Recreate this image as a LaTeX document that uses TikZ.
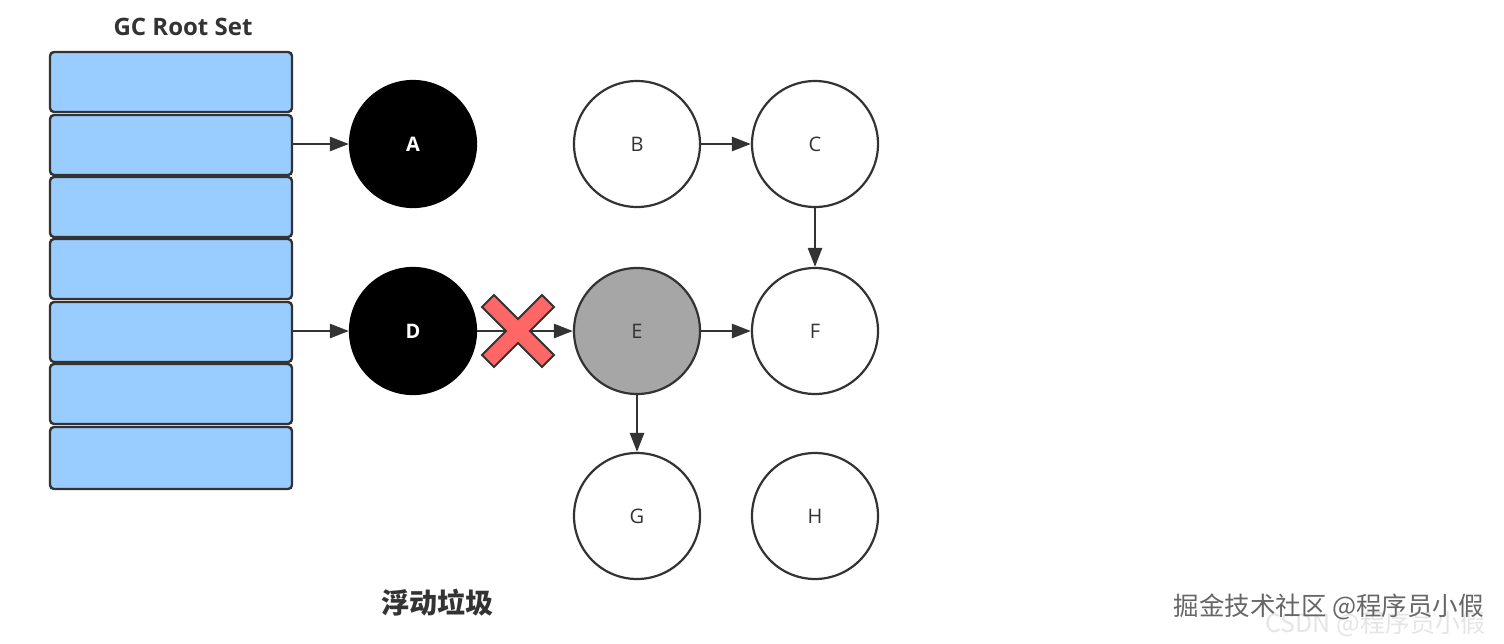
\documentclass[tikz,border=0pt]{standalone}
\usepackage{fontspec}
\setmainfont{Open Sans}
\newfontfamily\cjk{Noto Sans CJK SC}
\usetikzlibrary{arrows.meta}
\definecolor{rootblue}{HTML}{99CCFF}
\definecolor{linec}{HTML}{333333}
\definecolor{greyc}{HTML}{A6A6A6}
\definecolor{redx}{HTML}{FF6666}
\tikzset{
  rootcell/.style={draw=linec, line width=2.4pt, fill=rootblue, rounded corners=4pt},
  objnode/.style={circle, draw=linec, line width=2.2pt, minimum size=126pt, inner sep=0pt, font=\fontsize{20}{23}\selectfont, text=linec, fill=white},
  blacknode/.style={objnode, fill=black, draw=black, text=white, font=\fontsize{20}{23}\selectfont\bfseries},
  greynode/.style={objnode, fill=greyc},
  ref/.style={draw=linec, line width=2.6pt, -{Triangle[length=19pt,width=14pt]}},
}
\begin{document}
\begin{tikzpicture}[x=1pt,y=-1pt]
\useasboundingbox (0,0) rectangle (1504,643);
% root set
\node[font=\fontsize{24}{27}\selectfont\bfseries, text=linec] (title) at (183,27) {GC Root Set};
\foreach \i/\t/\b in {1/52/112, 2/115/175, 3/177/237, 4/239/299, 5/302/362, 6/364/424, 7/427/489}{
  \draw[rootcell] (50,\t) rectangle (292,\b);
}
\coordinate (r2) at (292,144);
\coordinate (r5) at (292,331);
% objects
\node[blacknode] (A) at (413,144) {A};
\node[blacknode] (D) at (413,331) {D};
\node[objnode] (B) at (637,144) {B};
\node[objnode] (C) at (815,144) {C};
\node[greynode] (E) at (637,331) {E};
\node[objnode] (F) at (815,331) {F};
\node[objnode] (G) at (637,516) {G};
\node[objnode] (H) at (815,516) {H};
% references
\draw[ref] (r2) -- (A.west);
\draw[ref] (r5) -- (D.west);
\draw[ref] (D.east) -- (E.west);
\draw[ref] (B.east) -- (C.west);
\draw[ref] (C.south) -- (F.north);
\draw[ref] (E.east) -- (F.west);
\draw[ref] (E.south) -- (G.north);
% red cross
\coordinate (X) at (518,331);
\draw[fill=redx, draw=linec, line width=1.8pt, shift={(X)}]
  (-24,-36) -- (0,-12) -- (24,-36) -- (36,-24) -- (12,0) -- (36,24) -- (24,36) -- (0,12)
  -- (-24,36) -- (-36,24) -- (-12,0) -- (-36,-24) -- cycle;
% caption
\node[font=\cjk\fontsize{28}{31}\selectfont\bfseries, text=linec] (cap) at (437,603) {浮动垃圾};
% watermarks
\node[font=\cjk\fontsize{25}{28}\selectfont, text=black!10, anchor=west] (wm2) at (1262,624) {CSDN @程序员小假};
\node[font=\cjk\fontsize{25.5}{28}\selectfont, text=black!60, anchor=west] (wm) at (1170,607) {掘金技术社区 @程序员小假};
\end{tikzpicture}
\end{document}
